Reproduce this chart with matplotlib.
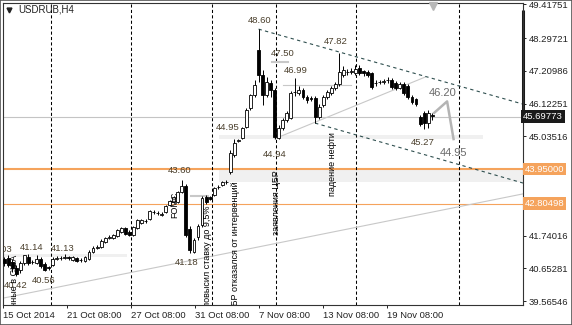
import numpy as np
import matplotlib
matplotlib.use("Agg")
import matplotlib.pyplot as plt
import matplotlib.transforms as mtransforms
from matplotlib.patches import Rectangle

plt.rcParams['font.family'] = ['Liberation Sans', 'DejaVu Sans']

# USDRUB H4 candles, one entry per bar
opens = [40.97, 41.00, 40.87, 40.67, 40.60, 40.84, 41.04, 40.87, 40.84, 40.97,
         40.80, 40.71, 40.77, 40.97, 41.00, 41.00, 41.04, 40.94, 41.00, 40.93,
         40.90, 40.97, 41.20, 41.33, 41.37, 41.53, 41.67, 41.67, 41.73, 41.86,
         42.00, 41.86, 41.77, 42.00, 42.16, 42.23, 42.30, 42.53, 42.50, 42.43,
         42.53, 42.76, 42.86, 42.86, 43.20, 43.40, 41.96, 41.20, 41.70, 42.10,
         43.03, 43.03, 43.09, 43.36, 43.43, 43.53, 43.86, 44.42, 44.89, 44.99,
         45.35, 45.98, 46.41, 47.91, 47.08, 46.41, 46.81, 46.58, 44.99, 45.32,
         45.58, 45.65, 46.51, 46.48, 46.58, 46.35, 46.31, 46.31, 45.68, 46.08,
         46.35, 46.48, 46.65, 46.78, 47.08, 47.18, 47.18, 47.14, 47.31, 47.21,
         47.18, 47.14, 46.81, 46.84, 46.84, 46.91, 46.91, 46.81, 46.65, 46.78,
         46.71, 46.35, 46.28, 45.68, 45.82, 45.48, 45.75]
highs = [41.03, 41.10, 40.97, 40.77, 40.90, 41.10, 41.14, 40.94, 41.10, 41.04,
         40.87, 40.74, 41.04, 41.07, 41.07, 41.13, 41.07, 41.07, 41.04, 41.00,
         41.07, 41.27, 41.40, 41.43, 41.63, 41.70, 41.77, 41.80, 41.96, 42.03,
         42.03, 41.93, 42.06, 42.30, 42.30, 42.30, 42.60, 42.60, 42.56, 42.53,
         42.76, 42.93, 43.06, 43.23, 43.60, 43.45, 42.06, 41.67, 42.13, 43.06,
         43.09, 43.06, 43.36, 43.43, 43.56, 43.59, 44.59, 44.95, 44.95, 45.35,
         45.98, 46.45, 46.90, 48.60, 47.24, 47.01, 46.91, 46.65, 45.42, 45.65,
         45.88, 46.55, 46.99, 46.71, 46.65, 46.41, 46.38, 46.38, 46.11, 46.41,
         46.58, 46.71, 46.84, 47.82, 47.38, 47.28, 47.31, 47.41, 47.41, 47.24,
         47.24, 47.18, 46.91, 46.91, 46.94, 47.01, 46.98, 46.88, 46.84, 46.84,
         46.78, 46.41, 46.31, 45.75, 45.88, 45.92, 45.82]
lows = [40.74, 40.70, 40.54, 40.42, 40.50, 40.77, 40.77, 40.80, 40.80, 40.67,
        40.56, 40.60, 40.74, 40.93, 40.93, 40.97, 40.93, 40.90, 40.87, 40.87,
        40.87, 40.93, 41.17, 41.30, 41.33, 41.50, 41.63, 41.63, 41.70, 41.83,
        41.77, 41.73, 41.73, 41.96, 42.13, 42.16, 42.26, 42.46, 42.43, 42.40,
        42.50, 42.73, 42.83, 42.83, 43.15, 41.70, 41.18, 41.17, 41.60, 42.03,
        42.80, 42.93, 43.06, 43.29, 43.39, 43.46, 43.79, 44.35, 44.85, 44.95,
        45.32, 45.92, 46.35, 46.84, 46.08, 46.35, 46.35, 44.94, 44.96, 45.25,
        45.52, 45.62, 46.38, 46.41, 46.28, 46.15, 46.21, 45.48, 45.62, 46.01,
        46.28, 46.41, 46.58, 46.71, 47.01, 47.08, 47.11, 47.08, 47.08, 47.04,
        47.01, 46.61, 46.71, 46.78, 46.78, 46.81, 46.61, 46.58, 46.61, 46.41,
        46.28, 46.11, 46.05, 45.38, 45.27, 45.32, 45.58]
closes = [40.84, 40.77, 40.67, 40.48, 40.84, 41.10, 40.84, 40.88, 40.97, 40.74,
          40.60, 40.67, 40.97, 41.00, 41.01, 41.04, 41.00, 41.04, 40.90, 40.94,
          41.04, 41.20, 41.33, 41.37, 41.57, 41.67, 41.70, 41.77, 41.93, 42.00,
          41.80, 41.77, 42.03, 42.26, 42.26, 42.24, 42.56, 42.54, 42.49, 42.46,
          42.73, 42.89, 43.03, 43.19, 43.40, 41.77, 41.27, 41.60, 42.06, 42.99,
          42.86, 42.96, 43.33, 43.37, 43.53, 43.54, 44.49, 44.82, 44.92, 45.32,
          45.92, 46.41, 46.74, 47.08, 46.41, 46.84, 46.58, 45.02, 45.32, 45.58,
          45.82, 46.48, 46.52, 46.58, 46.35, 46.25, 46.28, 45.68, 46.01, 46.35,
          46.51, 46.65, 46.78, 47.18, 47.24, 47.19, 47.21, 47.28, 47.14, 47.14,
          47.08, 46.68, 46.82, 46.85, 46.88, 46.92, 46.68, 46.65, 46.78, 46.48,
          46.35, 46.18, 46.11, 45.45, 45.48, 45.82, 45.70]

# time axis (bar positions of the labels)
time_ticks = [-0.3, 15.6, 31.5, 47.3, 63.2, 79.0, 94.9]
time_labels = ["15 Oct 2014", "21 Oct 08:00", "27 Oct 08:00", "31 Oct 08:00",
               "7 Nov 08:00", "13 Nov 08:00", "19 Nov 08:00"]
separators = [11.6, 31.45, 51.5, 67.4, 87.2, 112.7]

price_ticks = [49.41751, 48.29721, 47.20986, 46.12251, 45.03516,
               41.74016, 40.65281, 39.56546]
level_prices = [43.95, 42.80498]
bid_price = 45.69773

# drawn objects: (bars, prices)
upper_channel = ([63, 128.5], [48.60, 46.11])
lower_channel = ([77, 128.5], [45.48, 43.49])
long_trend = ([-0.25, 128.5], [39.67, 43.13])
short_trend = ([67, 104.3], [44.96, 47.01])
forecast = ([106.5, 109.7, 111.3], [45.82, 46.20, 44.95])
zones = [(53.2, 118.6, 44.95, 45.08), (53.2, 128.5, 43.52, 43.96),
         (-0.25, 30.5, 41.03, 41.13)]
short_levels = [(66.4, 70.3, 47.50), (69.1, 85.9, 46.745), (46.3, 50.5, 43.06)]

# price marks on extremes
mark_bars = [-1, 6, 15, 3, 10, -3, 44, 46, 58, 63, 68.3, 72, 67, 83, 104]
mark_prices = [41.03, 41.14, 41.13, 40.42, 40.56, 40.48, 43.60, 41.18, 44.95,
               48.60, 47.50, 46.99, 44.94, 47.82, 45.27]
mark_offsets = [(0, -8), (3, -6), (-2, -6), (-1, 9.5), (-1, 9), (-1, 6),
                (-2, -9), (-3, 9.5), (-11, -12), (1, -9), (3, -8.5),
                (1, -7.6), (0, 15), (-4, -11.6), (-1, 12.6)]

# news notes: (bar, top price, text)
notes = [(2.5, 41.10, "данные в США"),
         (42.35, 43.19, "FOMC"),
         (50.4, 42.76, "ЦБ РФ повысил ставку до 9,5%"),
         (57.2, 43.53, "ЦБР отказался от интервенций"),
         (67.4, 43.92, "заявления ЦБР"),
         (81.2, 45.18, "падение нефти")]

W, H = 572, 325
fig = plt.figure(figsize=(W / 100, H / 100), dpi=100)
ax = fig.add_axes([3 / W, 20 / H, 520 / W, 302 / H])
ax.set_xlim(-0.25, 128.5)
ax.set_ylim(39.441, 49.467)

orange = '#f5a35c'
lab_col = '#4a3f2c'

# zones and levels
for x0, x1, y0, y1 in zones:
    ax.add_patch(Rectangle((x0, y0), x1 - x0, y1 - y0, color='#f0f0f0', lw=0, zorder=0))
ax.axhline(bid_price, color='#c4c4c4', lw=0.8, zorder=1)
ax.axhline(level_prices[0], color=orange, lw=1.5, zorder=1)
ax.axhline(level_prices[1], color=orange, lw=0.8, zorder=1)
for i, x in enumerate(separators):
    ax.axvline(x, color='black', lw=0.75, ls=(0, (3, 2.2)), zorder=1)
for x0, x1, y in short_levels:
    ax.plot([x0, x1], [y, y], color='#c8c8c8', lw=1.5 if x1 - x0 < 10 else 0.8, zorder=1)

ax.plot(*long_trend, color='#c8c8c8', lw=0.8, zorder=1)
ax.plot(*short_trend, color='#c8c8c8', lw=0.8, zorder=1)
ax.plot(*upper_channel, color='#2f4f4f', lw=0.8, ls=(0, (3, 3)), zorder=1)
ax.plot(*lower_channel, color='#2f4f4f', lw=0.8, ls=(0, (3, 3)), zorder=1)
ax.plot(*forecast, color='#b4b4b4', lw=1.8, zorder=2)

# candles
idx = np.arange(len(opens))
o, h, l, c = map(np.array, (opens, highs, lows, closes))
up = c >= o
ax.vlines(idx, l, h, color='black', lw=0.7, zorder=3)
ax.bar(idx[up], (c - o)[up], bottom=o[up], width=0.72, color='white',
       edgecolor='black', lw=0.6, zorder=4)
ax.bar(idx[~up], (o - c)[~up], bottom=c[~up], width=0.72, color='black',
       edgecolor='black', lw=0.6, zorder=4)

# labels
for b, p, (dx, dy) in zip(mark_bars, mark_prices, mark_offsets):
    ax.annotate(f"{p:.2f}", (b, p), xytext=(dx * 0.72, -dy * 0.72),
                textcoords='offset points', ha='center', va='center',
                fontsize=6.8, color=lab_col, clip_on=True, annotation_clip=False)
ax.annotate(f"{forecast[1][1]:.2f}", (forecast[0][1], forecast[1][1]),
            xytext=(-4 * 0.72, 8 * 0.72), textcoords='offset points',
            ha='center', va='center', fontsize=8, color='#6a6a6a')
ax.annotate(f"{forecast[1][2]:.2f}", (forecast[0][2], forecast[1][2]),
            xytext=(0, -14 * 0.72), textcoords='offset points',
            ha='center', va='center', fontsize=8, color='#6a6a6a')

for b, p, t in notes:
    ax.text(b, p, t, rotation=90, ha='center', va='top', fontsize=6.5,
            color='black', clip_on=True, zorder=5)

# axes look
for s in ax.spines.values():
    s.set_color('#333333')
    s.set_linewidth(0.8)
ax.yaxis.tick_right()
ax.set_yticks(price_ticks)
ax.set_yticklabels([f"{v:.5f}" for v in price_ticks])
ax.tick_params(axis='y', length=2.5, width=0.7, pad=1.5, labelsize=6.8,
               colors='#222222')
ax.set_xticks(time_ticks)
ax.set_xticklabels(time_labels, ha='left')
ax.tick_params(axis='x', length=2.5, width=0.7, pad=2, labelsize=6.8,
               colors='#222222')
for lbl in ax.get_xticklabels():
    lbl.set_x(lbl.get_position()[0])

tr = mtransforms.blended_transform_factory(ax.transAxes, ax.transData)
for p in level_prices:
    ax.text(1.004, p, f"{p:.5f}", transform=tr, ha='left', va='center',
            fontsize=6.8, color='white', clip_on=False,
            bbox=dict(boxstyle='square,pad=0.18', fc=orange, ec='none'))
ax.text(1.0, bid_price, f"{bid_price:.5f}", transform=tr, ha='left', va='center',
        fontsize=6.8, color='white', clip_on=False,
        bbox=dict(boxstyle='square,pad=0.25', fc='#1a1a1a', ec='none'))
ax.plot([1.0, 1.0], [bid_price + 0.15, 49.25], transform=tr, color='#1a1a1a',
        lw=2.2, clip_on=False, solid_capstyle='butt')

# shift marker and symbol caption
ax.plot([106.2], [0.99], transform=mtransforms.blended_transform_factory(ax.transData, ax.transAxes),
        marker='v', ms=6, color='#b8b8b8', clip_on=False, zorder=6)
ax.plot([0.0115], [0.977], transform=ax.transAxes, marker='v', ms=3.5,
        color='#222222', clip_on=False)
fig.text(18 / W, 1 - 10 / H, "USDRUB,H4", fontsize=7, va='center', color='#222222')

fig.patches.append(Rectangle((0, 0), 1, 1, transform=fig.transFigure, fill=False,
                             ec='#555555', lw=1.2))

fig.savefig("out.png", dpi=100)
